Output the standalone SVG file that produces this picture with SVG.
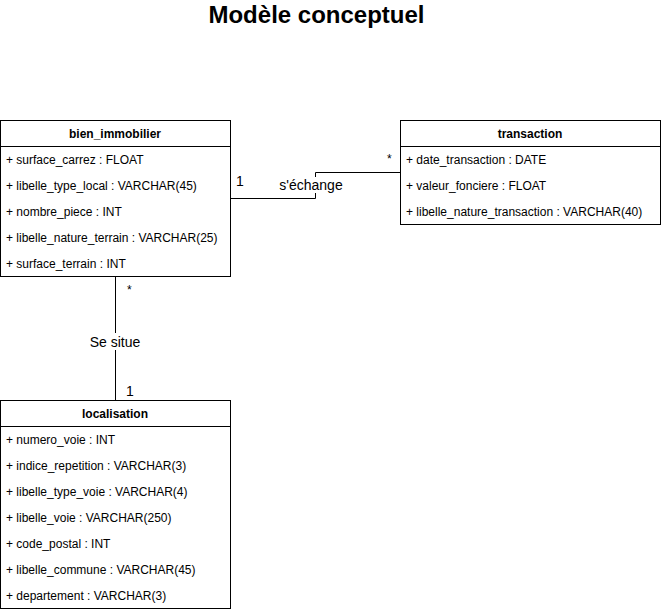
<svg xmlns="http://www.w3.org/2000/svg" width="661" height="612" viewBox="0 0 661 612">
<style>
text{font-family:"Liberation Sans",Arial,sans-serif;fill:#000}
.box{fill:#fff;stroke:#000;stroke-width:1}
.hdr{font-size:12px;font-weight:bold;text-anchor:middle}
.fld{font-size:12px}
.lbl{font-size:14px}
.mul{font-size:12px}
.edge{fill:none;stroke:#000;stroke-width:1}
</style>
<rect width="661" height="612" fill="#fff"/>
<text x="316.5" y="23" style="font-size:24px;font-weight:bold" text-anchor="middle">Modèle conceptuel</text>
<g id="connectors">
<path class="edge" d="M230.5 198.5 H315.5 V172.5 H400.5"/>
<path class="edge" d="M115.5 276.5 V400.5"/>
<rect x="279" y="177" width="64" height="16" fill="#fff"/>
<rect x="86" y="333" width="59" height="17" fill="#fff"/>
<text class="lbl" x="311" y="190" text-anchor="middle">s'échange</text>
<text class="lbl" x="115" y="347" text-anchor="middle">Se situe</text>
<text class="lbl" x="236" y="186">1</text>
<text class="mul" x="387" y="163">*</text>
<text class="mul" x="127" y="294">*</text>
<text class="lbl" x="126" y="396">1</text>
</g>
<g id="bien_immobilier">
<rect class="box" x="0.5" y="120.5" width="230" height="156"/>
<line class="edge" x1="0.5" y1="146.5" x2="230.5" y2="146.5"/>
<text class="hdr" x="115" y="138">bien_immobilier</text>
<text class="fld" x="6" y="164">+ surface_carrez : FLOAT</text>
<text class="fld" x="6" y="190">+ libelle_type_local : VARCHAR(45)</text>
<text class="fld" x="6" y="216">+ nombre_piece : INT</text>
<text class="fld" x="6" y="242">+ libelle_nature_terrain : VARCHAR(25)</text>
<text class="fld" x="6" y="268">+ surface_terrain : INT</text>
</g>
<g id="transaction">
<rect class="box" x="400.5" y="120.5" width="260" height="104"/>
<line class="edge" x1="400.5" y1="146.5" x2="660.5" y2="146.5"/>
<text class="hdr" x="530" y="138">transaction</text>
<text class="fld" x="406" y="164">+ date_transaction : DATE</text>
<text class="fld" x="406" y="190">+ valeur_fonciere : FLOAT</text>
<text class="fld" x="406" y="216">+ libelle_nature_transaction : VARCHAR(40)</text>
</g>
<g id="localisation">
<rect class="box" x="0.5" y="400.5" width="230" height="208"/>
<line class="edge" x1="0.5" y1="426.5" x2="230.5" y2="426.5"/>
<text class="hdr" x="115" y="418">localisation</text>
<text class="fld" x="6" y="444">+ numero_voie : INT</text>
<text class="fld" x="6" y="470">+ indice_repetition : VARCHAR(3)</text>
<text class="fld" x="6" y="496">+ libelle_type_voie : VARCHAR(4)</text>
<text class="fld" x="6" y="522">+ libelle_voie : VARCHAR(250)</text>
<text class="fld" x="6" y="548">+ code_postal : INT</text>
<text class="fld" x="6" y="574">+ libelle_commune : VARCHAR(45)</text>
<text class="fld" x="6" y="600">+ departement : VARCHAR(3)</text>
</g>
</svg>
